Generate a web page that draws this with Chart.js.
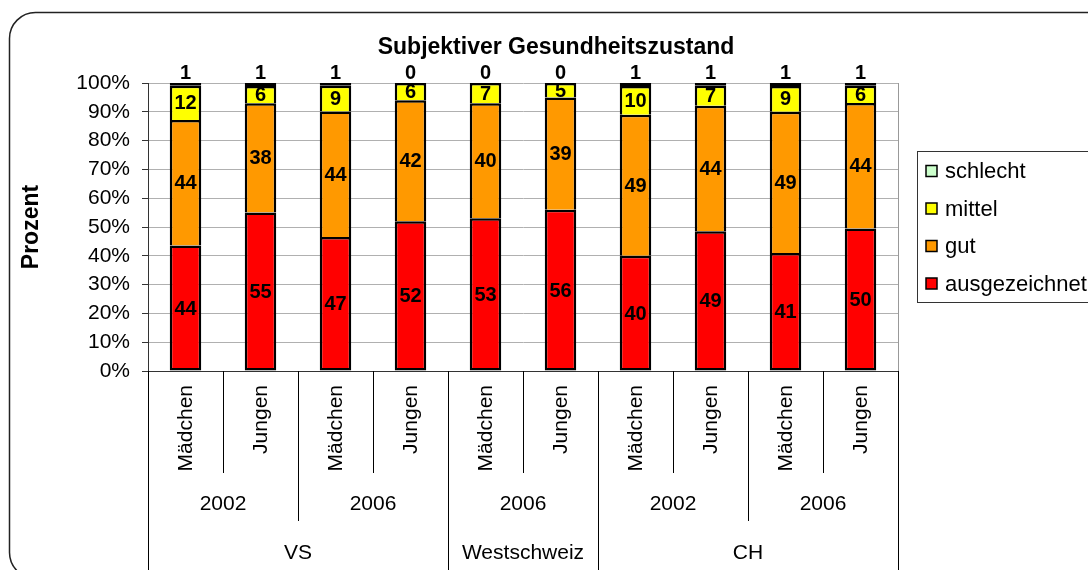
<!DOCTYPE html>
<html lang="de">
<head>
<meta charset="UTF-8">
<title>Subjektiver Gesundheitszustand</title>
<script src="https://cdn.jsdelivr.net/npm/chart.js"></script>
<style>
    body {
        margin: 0;
        background: #fff;
    }
    #wrap {
        width: 1088px;
        height: 570px;
    }
</style>
</head>
<body>
<div id="wrap"><canvas id="chart" width="1088" height="570"></canvas></div>
<script>
// Daten
const geschlecht = ['Mädchen', 'Jungen', 'Mädchen', 'Jungen', 'Mädchen', 'Jungen', 'Mädchen', 'Jungen', 'Mädchen', 'Jungen'];
const jahre = ['2002', '2006', '2006', '2002', '2006'];       // je 2 Kategorien
const regionen = ['VS', 'Westschweiz', 'CH'];
const regionBreite = [4, 2, 4];                                  // Anzahl Kategorien pro Region
const ausgezeichnet = [44, 55, 47, 52, 53, 56, 40, 49, 41, 50];
const gut = [44, 38, 44, 42, 40, 39, 49, 44, 49, 44];
const mittel = [12, 6, 9, 6, 7, 5, 10, 7, 9, 6];
const schlecht = [1, 1, 1, 0, 0, 0, 1, 1, 1, 1];
const yTicks = [0, 10, 20, 30, 40, 50, 60, 70, 80, 90, 100];

const FONT = 'Liberation Sans, Arial, sans-serif';
Chart.defaults.font.family = FONT;

// 100%-Stapel: Anteil pro Kategorie
const summen = ausgezeichnet.map((v, i) => v + gut[i] + mittel[i] + schlecht[i]);
const prozent = arr => arr.map((v, i) => v / summen[i] * 100);

const serien = [
    { label: 'ausgezeichnet', roh: ausgezeichnet, farbe: '#ff0000' },
    { label: 'gut', roh: gut, farbe: '#ff9900' },
    { label: 'mittel', roh: mittel, farbe: '#ffff00' },
    { label: 'schlecht', roh: schlecht, farbe: '#ccffcc' }
];

const dekor = {
    id: 'dekor',
    beforeDraw(chart) {
        const c = chart.ctx;
        c.save();
        c.fillStyle = '#fff';
        c.fillRect(0, 0, chart.width, chart.height);
        c.strokeStyle = '#222';
        c.lineWidth = 1.5;
        c.beginPath();
        c.roundRect(9.5, 12.5, 1110, 566, 26);
        c.stroke();
        c.restore();
    },
    afterDatasetsDraw(chart) {
        const c = chart.ctx;
        c.save();
        c.fillStyle = '#000';
        c.font = 'bold 20px ' + FONT;
        c.textAlign = 'center';
        chart.data.datasets.forEach((ds, d) => {
            const meta = chart.getDatasetMeta(d);
            meta.data.forEach((el, i) => {
                const txt = String(serien[d].roh[i]);
                if (d === 3) {
                    c.textBaseline = 'alphabetic';
                    c.fillText(txt, el.x, chart.chartArea.top - 4);
                } else {
                    c.textBaseline = 'middle';
                    c.fillText(txt, el.x, (el.y + el.base) / 2 + 1);
                }
            });
        });
        c.restore();
    },
    afterDraw(chart) {
        const c = chart.ctx, a = chart.chartArea, x = chart.scales.x;
        const n = geschlecht.length;
        c.save();

        // Rahmen rechts
        c.strokeStyle = '#999';
        c.lineWidth = 1;
        c.beginPath();
        c.moveTo(Math.round(a.right) + 0.5, a.top);
        c.lineTo(Math.round(a.right) + 0.5, a.bottom);
        c.stroke();

        // Trennlinien unter der Achse
        const regionGrenzen = [0];
        regionBreite.forEach(b => regionGrenzen.push(regionGrenzen[regionGrenzen.length - 1] + b));
        c.strokeStyle = '#000';
        for (let k = 0; k <= n; k++) {
            const px = Math.round(x.getPixelForValue(k - 0.5)) + 0.5;
            let unten = 473;
            if (regionGrenzen.includes(k)) unten = 580;
            else if (k % 2 === 0) unten = 521;
            c.beginPath();
            c.moveTo(px, a.bottom);
            c.lineTo(px, unten);
            c.stroke();
        }

        c.fillStyle = '#000';
        // Geschlecht (gedreht)
        c.font = '21px ' + FONT;
        c.textAlign = 'right';
        c.textBaseline = 'middle';
        geschlecht.forEach((g, i) => {
            c.save();
            c.translate(x.getPixelForValue(i) + 1, 385);
            c.rotate(-Math.PI / 2);
            c.fillText(g, 0, 0);
            c.restore();
        });

        // Jahre
        c.textAlign = 'center';
        jahre.forEach((j, k) => {
            const px = x.getPixelForValue(k * 2 + 0.5);
            c.fillText(j, px, 504);
        });

        // Regionen
        let start = 0;
        regionen.forEach((r, k) => {
            const px = x.getPixelForValue(start + (regionBreite[k] - 1) / 2);
            c.fillText(r, px, 553);
            start += regionBreite[k];
        });

        // Titel
        c.font = 'bold 23px ' + FONT;
        c.textBaseline = 'alphabetic';
        c.fillText('Subjektiver Gesundheitszustand', 556, 54);

        // Achsentitel
        c.save();
        c.translate(38, (a.top + a.bottom) / 2);
        c.rotate(-Math.PI / 2);
        c.fillText('Prozent', 0, 0);
        c.restore();

        // Legende
        c.strokeStyle = '#333';
        c.lineWidth = 1;
        c.strokeRect(917.5, 151.5, 200, 151);
        c.font = '22px ' + FONT;
        c.textAlign = 'left';
        c.textBaseline = 'middle';
        const legende = serien.slice().reverse();
        legende.forEach((s, k) => {
            const yy = 171 + k * 37.5;
            c.fillStyle = s.farbe;
            c.fillRect(926, yy - 5.5, 11, 11);
            c.strokeStyle = '#000';
            c.lineWidth = 1.5;
            c.strokeRect(926, yy - 5.5, 11, 11);
            c.fillStyle = '#000';
            c.fillText(s.label, 945, yy + 1);
        });
        c.restore();
    }
};

new Chart(document.getElementById('chart'), {
    type: 'bar',
    data: {
        labels: geschlecht,
        datasets: serien.map((s, d) => ({
            label: s.label,
            data: prozent(s.roh),
            backgroundColor: s.farbe,
            borderColor: '#000',
            borderWidth: { left: 2.5, right: 2.5, top: 2.5, bottom: (d === 0 || d === 3) ? 2.5 : 0 },
            borderSkipped: false,
            categoryPercentage: 1,
            barPercentage: 0.42
        }))
    },
    options: {
        responsive: false,
        animation: false,
        layout: { padding: { left: 0, top: 83, right: 190, bottom: 0 } },
        plugins: {
            legend: { display: false },
            title: { display: false },
            tooltip: { enabled: false }
        },
        scales: {
            x: {
                stacked: true,
                ticks: { display: false },
                grid: { display: false },
                border: { display: true, color: '#333', width: 1 },
                afterFit(scale) { scale.height = 199; }
            },
            y: {
                stacked: true,
                min: 0,
                max: 100,
                afterBuildTicks(scale) { scale.ticks = yTicks.map(v => ({ value: v })); },
                ticks: {
                    color: '#000',
                    padding: 12,
                    font: { size: 21 },
                    callback: v => v + '%'
                },
                grid: { color: '#b0b0b0', tickColor: '#333', tickLength: 6, drawTicks: true },
                border: { display: true, color: '#333', width: 1 },
                afterFit(scale) { scale.width = 148; }
            }
        }
    },
    plugins: [dekor]
});
</script>
</body>
</html>
